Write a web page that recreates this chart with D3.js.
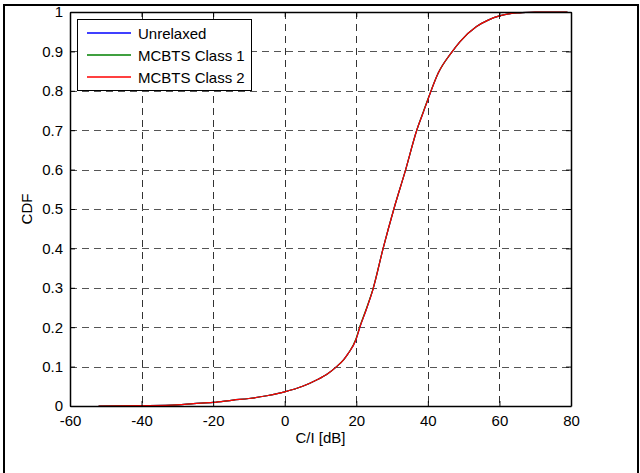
<!DOCTYPE html>
<html><head><meta charset="utf-8">
<script src="https://cdn.jsdelivr.net/npm/d3@7"></script>
<style>
html,body{margin:0;padding:0;background:#fff;}
svg{display:block;font-family:"Liberation Sans",Arial,sans-serif;}
</style></head>
<body><svg id="c" width="640" height="473"></svg>
<script>
const ciDb = [-52, -40, -30, -25.5, -20, -14.4, -10, -5, -1.8, 0, 5, 8.9, 12, 14.5, 16.5, 17.8, 19.9, 21.0, 22.8, 24.6, 27.5, 30.5, 33.8, 36.9, 38.5, 40.1, 42.9, 46.6, 49.0, 53.6, 57, 60.0, 63, 65.7, 70, 79];
const unrelaxed = [0, 0.001, 0.003, 0.006, 0.009, 0.015, 0.019, 0.026, 0.032, 0.036, 0.05, 0.066, 0.082, 0.1, 0.118, 0.134, 0.168, 0.2, 0.245, 0.294, 0.4, 0.5, 0.6, 0.7, 0.74, 0.78, 0.845, 0.897, 0.925, 0.963, 0.98, 0.99, 0.996, 0.998, 1.0, 1.0];
const mcbts1 = [0, 0.001, 0.003, 0.006, 0.009, 0.015, 0.019, 0.026, 0.032, 0.036, 0.05, 0.066, 0.082, 0.1, 0.118, 0.134, 0.170, 0.202, 0.247, 0.295, 0.4, 0.5, 0.6, 0.7, 0.741, 0.781, 0.845, 0.897, 0.925, 0.963, 0.98, 0.99, 0.996, 0.998, 1.0, 1.0];
const mcbts2 = [0, 0.001, 0.003, 0.006, 0.009, 0.015, 0.019, 0.026, 0.032, 0.036, 0.05, 0.066, 0.082, 0.1, 0.118, 0.134, 0.168, 0.2, 0.245, 0.294, 0.4, 0.5, 0.6, 0.7, 0.74, 0.78, 0.845, 0.897, 0.925, 0.963, 0.98, 0.99, 0.996, 0.998, 1.0, 1.0];
const seriesNames = ["Unrelaxed", "MCBTS Class 1", "MCBTS Class 2"];
const seriesColors = ["#0000ff", "#008000", "#ff0000"];
const xTicks = [-60, -40, -20, 0, 20, 40, 60, 80];
const yTicks = [0, 0.1, 0.2, 0.3, 0.4, 0.5, 0.6, 0.7, 0.8, 0.9, 1];
const yTickLabels = ["0", "0.1", "0.2", "0.3", "0.4", "0.5", "0.6", "0.7", "0.8", "0.9", "1"];

(function(){
const svg = d3.select("#c");
const L = 70, R = 571, T = 12, B = 406;
const FS = "15px";
const x = d3.scaleLinear().domain([-60, 80]).range([L, R]);
const y = d3.scaleLinear().domain([0, 1]).range([B, T]);

// figure frame
svg.append("path").attr("d", `M4,473 V5 H638 V473`).attr("fill", "none").attr("stroke", "#000").attr("stroke-width", 2);

// grid
const g = svg.append("g");
g.selectAll(".vg").data(xTicks.slice(1, -1)).enter().append("line")
  .attr("x1", d => Math.round(x(d)) + 0.5).attr("x2", d => Math.round(x(d)) + 0.5)
  .attr("y1", T).attr("y2", B)
  .attr("stroke", "#333").attr("stroke-dasharray", "7,5").attr("stroke-width", 1);
g.selectAll(".hg").data(yTicks.slice(1, -1)).enter().append("line")
  .attr("y1", d => Math.round(y(d)) + 0.5).attr("y2", d => Math.round(y(d)) + 0.5)
  .attr("x1", L).attr("x2", R)
  .attr("stroke", "#555").attr("stroke-dasharray", "7,5").attr("stroke-width", 1);

// curves
const line = d3.line().x((d, i) => x(ciDb[i])).y(d => y(d)).curve(d3.curveMonotoneX);
[unrelaxed, mcbts1, mcbts2].forEach((s, k) => {
  svg.append("path").datum(s).attr("d", line).attr("fill", "none")
    .attr("stroke", seriesColors[k]).attr("stroke-width", 1.2);
});

// axes (box with inward ticks)
const axB = d3.axisBottom(x).tickValues(xTicks).tickSizeInner(-5).tickSizeOuter(0).tickPadding(9)
  .tickFormat(d => String(d));
const axT = d3.axisTop(x).tickValues(xTicks).tickSizeInner(-5).tickSizeOuter(0).tickFormat("");
const axL = d3.axisLeft(y).tickValues(yTicks).tickSizeInner(-5).tickSizeOuter(0).tickPadding(7)
  .tickFormat((d, i) => yTickLabels[i]);
const axR = d3.axisRight(y).tickValues(yTicks).tickSizeInner(-5).tickSizeOuter(0).tickFormat("");
function style(sel){
  sel.selectAll("path").attr("stroke", "#000").attr("stroke-width", 1.5);
  sel.selectAll("line").attr("stroke", "#000");
  sel.selectAll("text").attr("fill", "#000").attr("font-size", FS).attr("font-family", "Liberation Sans, Arial, sans-serif");
}
svg.append("g").attr("transform", `translate(0,${B})`).call(axB).call(style);
svg.append("g").attr("transform", `translate(0,${T})`).call(axT).call(style);
svg.append("g").attr("transform", `translate(${L},0)`).call(axL).call(style);
svg.append("g").attr("transform", `translate(${R},0)`).call(axR).call(style);

// axis labels
svg.append("text").attr("x", (L + R) / 2).attr("y", 443).attr("text-anchor", "middle")
  .attr("font-size", FS).text("C/I [dB]");
svg.append("text").attr("transform", `translate(32,${(T + B) / 2}) rotate(-90)`).attr("text-anchor", "middle")
  .attr("font-size", FS).text("CDF");

// legend
const lg = svg.append("g");
lg.append("rect").attr("x", 77.5).attr("y", 19.5).attr("width", 174).attr("height", 71)
  .attr("fill", "#fff").attr("stroke", "#000").attr("stroke-width", 1);
seriesNames.forEach((n, k) => {
  const yy = 33 + k * 22;
  lg.append("line").attr("x1", 87).attr("x2", 131).attr("y1", yy).attr("y2", yy)
    .attr("stroke", seriesColors[k]).attr("stroke-width", 1.5);
  lg.append("text").attr("x", 138).attr("y", yy + 5.5).attr("font-size", FS).text(n);
});
})();
</script></body></html>
